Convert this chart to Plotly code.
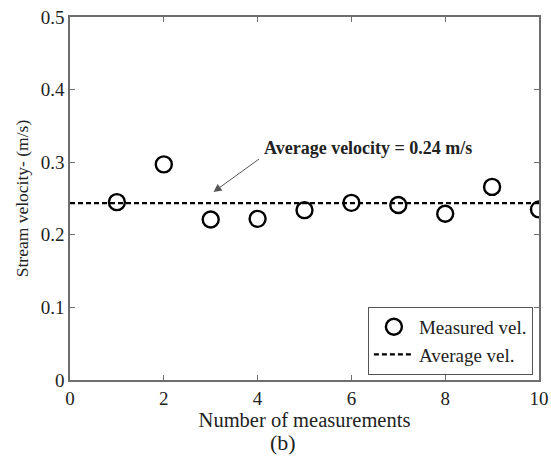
import plotly.graph_objects as go

measurement = [1, 2, 3, 4, 5, 6, 7, 8, 9, 10]
velocity = [0.245, 0.297, 0.221, 0.222, 0.234, 0.244, 0.241, 0.229, 0.266, 0.235]
avg_x = [0, 10]
avg_velocity = 0.2435
x_ticks = [0, 2, 4, 6, 8, 10]
y_ticks = [0, 0.1, 0.2, 0.3, 0.4, 0.5]

FONT = "Liberation Serif"
AX = "#6e6e6e"
TXT = "#222"

fig = go.Figure()
fig.add_trace(go.Scatter(
    x=measurement, y=velocity, mode="markers", name="Measured vel.",
    marker=dict(symbol="circle-open", size=16, color="black", line=dict(width=2.4, color="black")),
))
fig.add_trace(go.Scatter(
    x=avg_x, y=[avg_velocity, avg_velocity], mode="lines", name="Average vel.",
    line=dict(color="black", width=2.2, dash="5px,3px"),
))

axis_common = dict(
    showline=True, linecolor=AX, linewidth=1.5, mirror="ticks",
    ticks="inside", ticklen=5, tickcolor=AX, tickwidth=1.2,
    showgrid=False, zeroline=False, automargin=False,
    tickfont=dict(family=FONT, size=19, color=TXT),
)

fig.update_layout(
    width=551, height=457,
    margin=dict(l=70, r=12, t=17, b=77),
    paper_bgcolor="white", plot_bgcolor="white",
    font=dict(family=FONT, size=19, color=TXT),
    xaxis=dict(range=[0, 10], tickvals=x_ticks, ticktext=[str(v) for v in x_ticks],
               title=dict(text="Number of measurements", font=dict(family=FONT, size=20.5, color=TXT), standoff=0),
               **axis_common),
    yaxis=dict(range=[0, 0.5], tickvals=y_ticks, ticktext=["0", "0.1", "0.2", "0.3", "0.4", "0.5"],
               title=dict(text="Stream velocity- (m/s)", font=dict(family=FONT, size=17.5, color=TXT), standoff=8),
               **axis_common),
    legend=dict(x=0.987, y=0.014, xanchor="right", yanchor="bottom",
                bordercolor="#555", borderwidth=1, bgcolor="white",
                font=dict(family=FONT, size=19, color=TXT),
                tracegroupgap=0, itemwidth=40),
    showlegend=True,
)

fig.add_annotation(
    x=3.06, y=0.259, xref="x", yref="y", ax=47, ay=-34,
    showarrow=True, arrowhead=2, arrowsize=1.6, arrowwidth=1, arrowcolor="#555", text="",
)
fig.add_annotation(
    x=6.36, y=0.3196, xref="x", yref="y", showarrow=False,
    text="<b>Average velocity = 0.24 m/s</b>",
    font=dict(family=FONT, size=18, color=TXT),
)
fig.add_annotation(
    x=0.455, y=-0.172, xref="paper", yref="paper", showarrow=False,
    text="(b)", font=dict(family=FONT, size=22, color=TXT),
    yanchor="middle",
)

fig.write_html("out.html")
